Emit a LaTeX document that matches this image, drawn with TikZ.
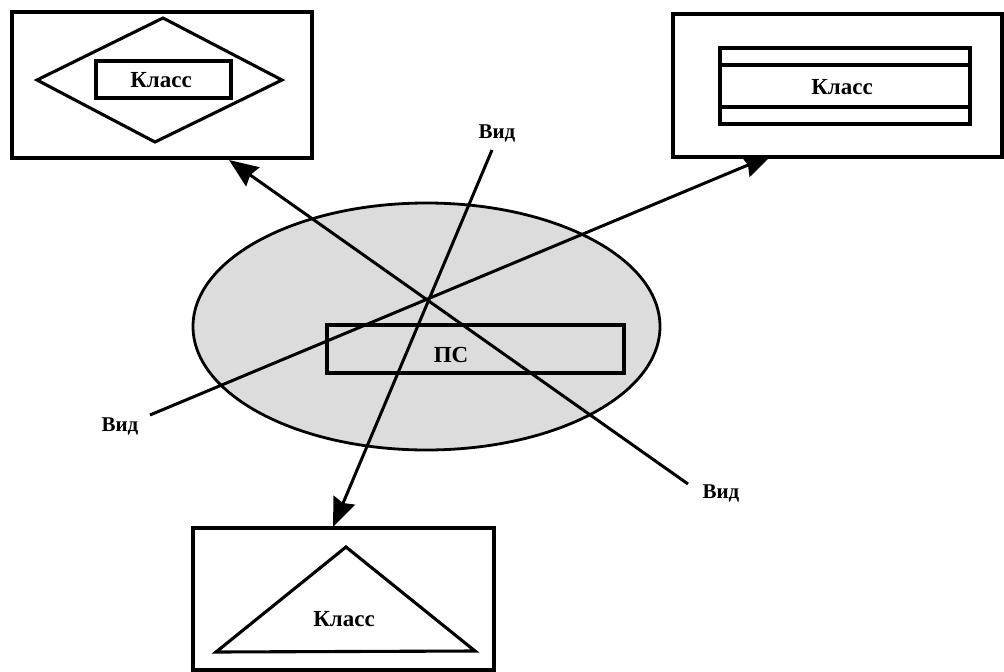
\documentclass[tikz,border=0pt]{standalone}
\usepackage{fontspec}
\setmainfont{Liberation Serif}
\usetikzlibrary{arrows.meta,shapes.geometric}
\begin{document}
\begin{tikzpicture}[x=1pt,y=-1pt,
  outerbox/.style={draw, line width=3.8pt, inner sep=0pt},
  innerbox/.style={draw, line width=3.1pt, inner sep=0pt},
  figline/.style={line width=3.1pt, line join=miter},
  lbl/.style={font=\bfseries\fontsize{23}{26}\selectfont, inner sep=0pt},
  vid/.style={font=\bfseries\fontsize{21}{24}\selectfont, inner sep=0pt},
  viewarrow/.style={line width=3pt, -{Stealth[length=29pt,width=23pt,inset=3pt]}},
  viewline/.style={line width=3pt}]
\useasboundingbox (0,0) rectangle (1004,672);

% top-left box with diamond
\node[outerbox, minimum width=300pt, minimum height=146pt] (tl) at (162,85) {};
\draw[figline] (37,80) -- (163,18) -- (282,80) -- (155,142) -- cycle;
\node[innerbox, minimum width=135pt, minimum height=37pt] (k1) at (163.5,79.5) {};
\node[lbl] (k1t) at (161,80) {Класс};

% top-right box with class box
\node[outerbox, minimum width=329pt, minimum height=143pt] (tr) at (837.5,85.5) {};
\node[innerbox, minimum width=250pt, minimum height=76pt] (k2) at (845,86) {};
\draw[figline] (k2.west |- 0,65) -- (k2.east |- 0,65);
\draw[figline] (k2.west |- 0,107) -- (k2.east |- 0,107);
\node[lbl] (k2t) at (842,87) {Класс};

% bottom box with triangle
\node[outerbox, minimum width=301pt, minimum height=142pt] (bt) at (343.5,599) {};
\draw[figline] (216,652) -- (346,547) -- (475,651) -- cycle;
\node[lbl] (k3t) at (344,619) {Класс};

% ellipse
\node[ellipse, draw, line width=2.8pt, fill={rgb,255:red,220;green,220;blue,220},
      minimum width=467pt, minimum height=247pt, inner sep=0pt] (el) at (426.5,326.5) {};
\node[innerbox, minimum width=297pt, minimum height=48pt] (ps) at (475.5,349) {};
\node[lbl] (pst) at (451,355) {ПС};

% view lines
\coordinate (s1) at (150,415);
\coordinate (t1) at (772,155);
\coordinate (s2) at (688,484);
\coordinate (t2) at (229,160);
\coordinate (s3) at (492,150);
\coordinate (t3) at (333,527);
\draw[viewarrow] (s1) -- (t1);
\draw[viewarrow] (s2) -- (t2);
\draw[viewarrow] (s3) -- (t3);

\node[vid] (v1) at (120,426) {Вид};
\node[vid] (v2) at (721,493) {Вид};
\node[vid] (v3) at (497,133) {Вид};
\end{tikzpicture}
\end{document}
